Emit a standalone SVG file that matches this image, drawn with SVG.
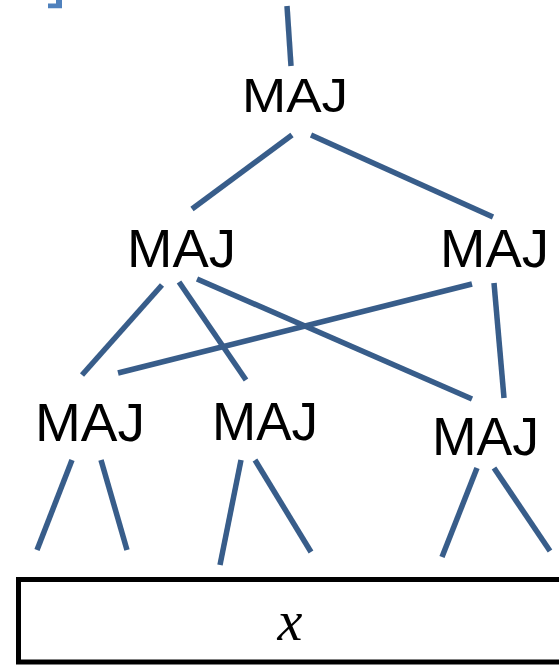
<svg xmlns="http://www.w3.org/2000/svg" width="559" height="665" viewBox="0 0 559 665">
  <style>
    .edge { stroke: #385D8A; stroke-width: 5.5; stroke-linecap: butt; fill: none; }
    .lbl { font-family: "Liberation Sans", Arial, sans-serif; fill: #000000; }
  </style>
  <rect width="559" height="665" fill="#ffffff"/>
  <!-- corner bracket fragment at top left -->
  <path d="M48,3.5 H56 V0 H62 V8.3 H48 Z" fill="#4F81BD"/>

  <g id="connectors">
    <line class="edge" x1="287" y1="6" x2="291" y2="66"/>
    <line class="edge" x1="292" y1="135" x2="192" y2="209"/>
    <line class="edge" x1="311" y1="135" x2="493" y2="217"/>
    <line class="edge" x1="162" y1="285" x2="82" y2="375"/>
    <line class="edge" x1="179" y1="282" x2="246" y2="380"/>
    <line class="edge" x1="197" y1="279" x2="472" y2="399"/>
    <line class="edge" x1="472" y1="284" x2="118" y2="373"/>
    <line class="edge" x1="494" y1="283" x2="504" y2="398"/>
    <line class="edge" x1="72" y1="460" x2="37" y2="550"/>
    <line class="edge" x1="101" y1="460" x2="127" y2="550"/>
    <line class="edge" x1="241" y1="460" x2="220" y2="565"/>
    <line class="edge" x1="255" y1="460" x2="311" y2="552"/>
    <line class="edge" x1="477" y1="468" x2="442" y2="557"/>
    <line class="edge" x1="494" y1="468" x2="550" y2="551"/>
  </g>

  <g id="maj-root">
    <text class="lbl" x="242" y="112" font-size="48" textLength="106" lengthAdjust="spacingAndGlyphs">MAJ</text>
  </g>
  <g id="maj-l1-left">
    <text class="lbl" x="127" y="267" font-size="54" textLength="109" lengthAdjust="spacingAndGlyphs">MAJ</text>
  </g>
  <g id="maj-l1-right">
    <text class="lbl" x="440" y="267" font-size="54" textLength="109" lengthAdjust="spacingAndGlyphs">MAJ</text>
  </g>
  <g id="maj-l2-left">
    <text class="lbl" x="35" y="441" font-size="54" textLength="110" lengthAdjust="spacingAndGlyphs">MAJ</text>
  </g>
  <g id="maj-l2-mid">
    <text class="lbl" x="212" y="440" font-size="54" textLength="106" lengthAdjust="spacingAndGlyphs">MAJ</text>
  </g>
  <g id="maj-l2-right">
    <text class="lbl" x="432" y="455" font-size="54" textLength="107" lengthAdjust="spacingAndGlyphs">MAJ</text>
  </g>

  <g id="input-x">
    <rect x="18.5" y="579.5" width="560" height="82.5" fill="none" stroke="#000000" stroke-width="5"/>
    <text x="290" y="640" font-family="'Liberation Serif', 'Times New Roman', serif" font-style="italic" font-size="56" text-anchor="middle">x</text>
  </g>
</svg>
